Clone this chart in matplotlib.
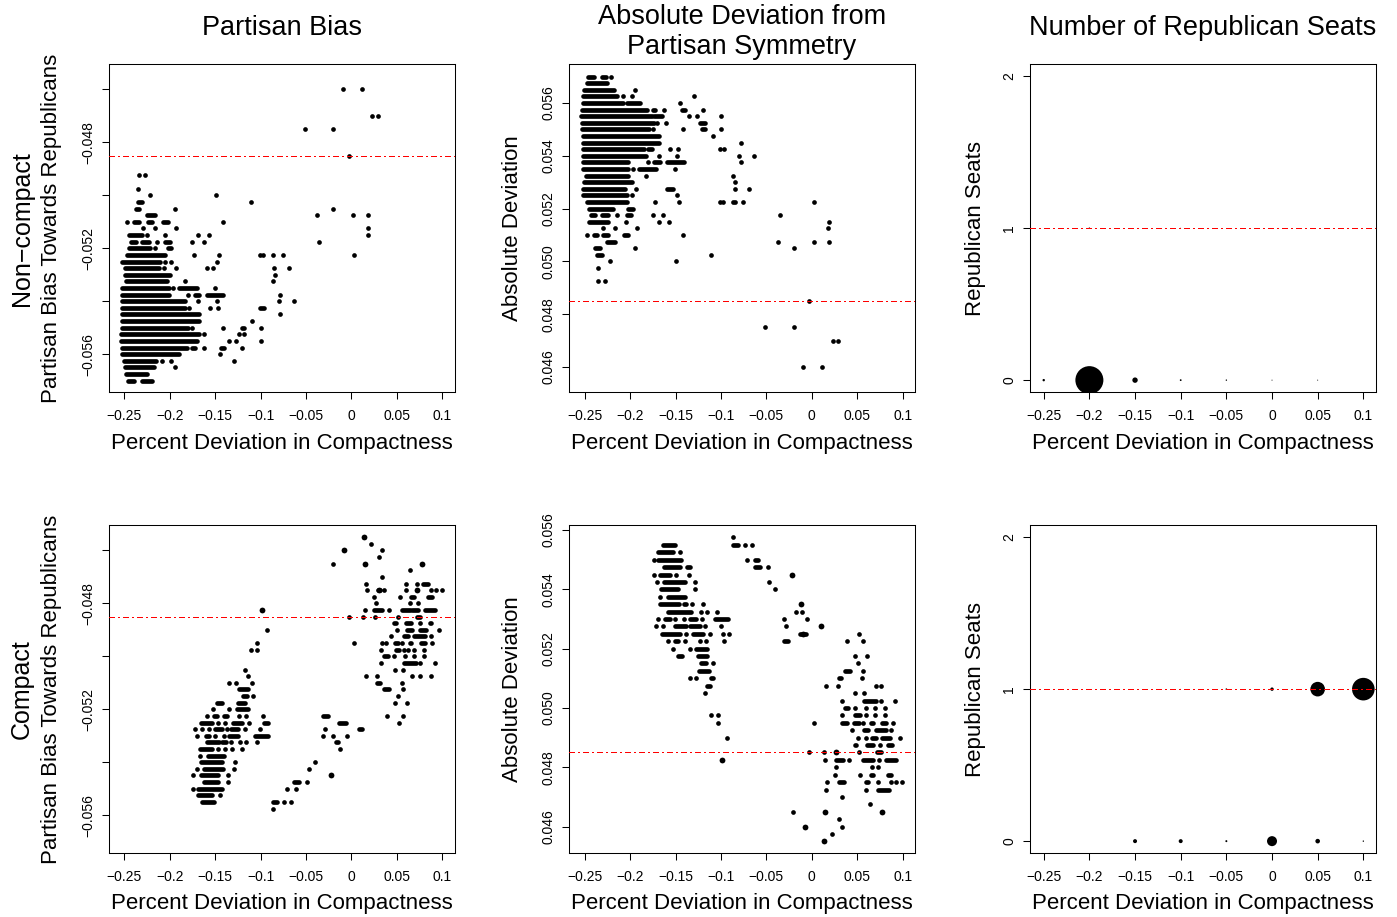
import matplotlib
matplotlib.use("Agg")
import matplotlib.pyplot as plt

plt.rcParams['font.family'] = ['Liberation Sans', 'DejaVu Sans']

# ---------------- data ----------------
# dense stretches of overlapping dots: (y, x_from, x_to); single dots grouped by row: (y, [x...])
xticks = [-0.25, -0.2, -0.15, -0.1, -0.05, 0, 0.05, 0.1]
xtick_labels = ['\u22120.25', '\u22120.2', '\u22120.15', '\u22120.1', '\u22120.05', '0', '0.05', '0.1']

# Non-compact, partisan bias
nc_bias_runs = [
    (-0.05025, -0.2352, -0.2312), (-0.0505, -0.2378, -0.2341), (-0.05075, -0.2253, -0.2165),
    (-0.0510, -0.2393, -0.2341), (-0.0510, -0.2239, -0.2202), (-0.0510, -0.2077, -0.2018),
    (-0.0515, -0.2452, -0.2312),
    (-0.05175, -0.2426, -0.2378), (-0.05175, -0.2312, -0.2231), (-0.05175, -0.2048, -0.1993),
    (-0.0520, -0.2452, -0.2224), (-0.0520, -0.2018, -0.1982),
    (-0.05225, -0.2477, -0.2048), (-0.0525, -0.2525, -0.2103), (-0.05275, -0.2499, -0.2121),
    (-0.0530, -0.2499, -0.1993), (-0.05325, -0.2488, -0.2029),
    (-0.0535, -0.2525, -0.2011), (-0.0535, -0.1901, -0.1699),
    (-0.05375, -0.2525, -0.2011), (-0.05375, -0.1725, -0.1674), (-0.05375, -0.1596, -0.1413),
    (-0.0540, -0.2525, -0.1835), (-0.05425, -0.2525, -0.1828), (-0.05425, -0.1011, -0.0959),
    (-0.0545, -0.2525, -0.1674), (-0.05475, -0.2525, -0.1674),
    (-0.0550, -0.2532, -0.1798), (-0.0550, -0.1204, -0.1178),
    (-0.05525, -0.2543, -0.1674), (-0.0555, -0.2543, -0.1699),
    (-0.05575, -0.2532, -0.1809), (-0.05575, -0.1751, -0.1721), (-0.05575, -0.1439, -0.1402),
    (-0.0560, -0.2525, -0.1901), (-0.05625, -0.2507, -0.2151), (-0.0565, -0.2499, -0.2176),
    (-0.05675, -0.2488, -0.2257), (-0.0570, -0.2459, -0.2396), (-0.0570, -0.2312, -0.2202),
]
nc_bias_rows = [
    (-0.0460, [-0.0097, 0.0119]), (-0.0470, [0.0226, 0.0288]), (-0.0475, [-0.0512, -0.0200]),
    (-0.0485, [-0.0031]), (-0.04925, [-0.2341, -0.2279]), (-0.04975, [-0.2349]),
    (-0.0500, [-0.2224, -0.1494]), (-0.05025, [-0.1108]), (-0.0505, [-0.1941, -0.0200]),
    (-0.05075, [-0.0376, 0.0020, 0.0185]), (-0.0510, [-0.2470, -0.1420]),
    (-0.05125, [-0.2294, -0.2158, -0.1927, 0.0178]),
    (-0.0515, [-0.2257, -0.2055, -0.1688, -0.1571, 0.0185]),
    (-0.05175, [-0.2140, -0.1751, -0.1629, -0.0358]), (-0.0520, [-0.2158]),
    (-0.05225, [-0.1729, -0.1464, -0.1009, -0.0974, -0.0864, -0.0754, 0.0024]),
    (-0.0525, [-0.2055, -0.1982, -0.1483]),
    (-0.05275, [-0.2066, -0.1930, -0.1596, -0.1527, -0.0849, -0.0688]),
    (-0.0530, [-0.0838]), (-0.05325, [-0.1828, -0.0864]), (-0.0535, [-0.1967, -0.1505]),
    (-0.05375, [-0.1798, -0.0787]), (-0.0540, [-0.1688, -0.1483, -0.0798, -0.0633]),
    (-0.05425, [-0.1784, -0.1556, -0.1468]), (-0.0545, [-0.0787]), (-0.05475, [-0.1090]),
    (-0.0550, [-0.1751, -0.1413, -0.1000]), (-0.05525, [-0.1622, -0.1233, -0.1178]),
    (-0.0555, [-0.1354, -0.1270, -0.1000]), (-0.05575, [-0.1622, -0.1200]),
    (-0.0560, [-0.1450]), (-0.05625, [-0.2085, -0.1989, -0.1295]), (-0.0565, [-0.1941]),
]

# Non-compact, absolute deviation
nc_dev_runs = [
    (0.0570, -0.2460, -0.2393), (0.0570, -0.2313, -0.2265), (0.05675, -0.2478, -0.2258),
    (0.0565, -0.2504, -0.2177), (0.05625, -0.2522, -0.2140),
    (0.0560, -0.2522, -0.2074), (0.0560, -0.2037, -0.1891),
    (0.05575, -0.2533, -0.1817), (0.05575, -0.1751, -0.1726), (0.05575, -0.1432, -0.1395),
    (0.0555, -0.2540, -0.1762), (0.0555, -0.1733, -0.1652),
    (0.05525, -0.2533, -0.1733), (0.05525, -0.1230, -0.1175),
    (0.0550, -0.2533, -0.1788), (0.0550, -0.1204, -0.1175),
    (0.05475, -0.2522, -0.1681), (0.0545, -0.2515, -0.1681),
    (0.05425, -0.2515, -0.1843), (0.05425, -0.1806, -0.1762), (0.0540, -0.2522, -0.1828),
    (0.05375, -0.2522, -0.2019), (0.05375, -0.1733, -0.1667), (0.05375, -0.1597, -0.1410),
    (0.0535, -0.2522, -0.2019), (0.0535, -0.1898, -0.1718), (0.05325, -0.2489, -0.2026),
    (0.0530, -0.2507, -0.1982), (0.05275, -0.2522, -0.2056), (0.05275, -0.1597, -0.1524),
    (0.0525, -0.2515, -0.2037), (0.05225, -0.2478, -0.2037),
    (0.0520, -0.2452, -0.2184), (0.0520, -0.2026, -0.1971),
    (0.05175, -0.2430, -0.2386), (0.05175, -0.2313, -0.2239), (0.05175, -0.2037, -0.1990),
    (0.0515, -0.2452, -0.2239),
    (0.0510, -0.2397, -0.2360), (0.0510, -0.2294, -0.2239), (0.0510, -0.2067, -0.2019),
    (0.05075, -0.2258, -0.2166), (0.0505, -0.2386, -0.2331), (0.05025, -0.2364, -0.2313),
]
nc_dev_rows = [
    (0.0570, [-0.2214]), (0.0565, [-0.1946]), (0.05625, [-0.2074, -0.1982, -0.1292]),
    (0.0560, [-0.1447]), (0.05575, [-0.1623, -0.1197]), (0.0555, [-0.1351, -0.1267, -0.0999]),
    (0.05525, [-0.1703, -0.1604]), (0.0550, [-0.1744, -0.1421, -0.0999]), (0.05475, [-0.1091]),
    (0.0545, [-0.0783]), (0.05425, [-0.1557, -0.1469, -0.1006, -0.0967]),
    (0.0540, [-0.1685, -0.1480, -0.0798, -0.0633]), (0.05375, [-0.1799, -0.0783]),
    (0.0535, [-0.1964, -0.1505]), (0.05325, [-0.1828, -0.0864]), (0.0530, [-0.0842]),
    (0.05275, [-0.1935, -0.0849, -0.0688]), (0.0525, [-0.1982, -0.1487]),
    (0.05225, [-0.1729, -0.1461, -0.1014, -0.0974, -0.0871, -0.0849, -0.0754, 0.0020]),
    (0.05175, [-0.2140, -0.1751, -0.1634, -0.0354]), (0.0515, [-0.2048, -0.1681, -0.1568, 0.0185]),
    (0.05125, [-0.2294, -0.2162, -0.1924, 0.0178]), (0.0510, [-0.2474, -0.1421]),
    (0.05075, [-0.0376, 0.0020, 0.0185]), (0.0505, [-0.1946, -0.0200]), (0.05025, [-0.1109]),
    (0.0500, [-0.2221, -0.1494]), (0.04975, [-0.2349]), (0.04925, [-0.2349, -0.2276]),
    (0.0485, [-0.0028]), (0.0475, [-0.0512, -0.0200]), (0.0470, [0.0229, 0.0288]),
    (0.0460, [-0.0094, 0.0116]),
]

# Compact, partisan bias
c_bias_runs = [
    (-0.05125, -0.1234, -0.1135), (-0.0515, -0.1190, -0.1153),
    (-0.05175, -0.1483, -0.1428), (-0.05175, -0.1245, -0.1171), (-0.0520, -0.1263, -0.1135),
    (-0.05225, -0.1509, -0.1476), (-0.05225, -0.1399, -0.1373), (-0.05225, -0.0310, -0.0255),
    (-0.0525, -0.1656, -0.1538), (-0.0525, -0.1300, -0.1208), (-0.0525, -0.0966, -0.0915),
    (-0.0525, -0.0138, -0.0064),
    (-0.05275, -0.1502, -0.1428), (-0.05275, -0.1329, -0.1245), (-0.05275, 0.0086, 0.0112),
    (-0.0530, -0.1601, -0.1564), (-0.0530, -0.1344, -0.1245), (-0.0530, -0.1061, -0.0922),
    (-0.05325, -0.1590, -0.1454), (-0.05325, -0.1421, -0.1384), (-0.05325, -0.0171, -0.0145),
    (-0.0535, -0.1667, -0.1538), (-0.05375, -0.1582, -0.1403), (-0.0540, -0.1656, -0.1428),
    (-0.05425, -0.1619, -0.1410), (-0.0545, -0.1656, -0.1472),
    (-0.05475, -0.1619, -0.1465), (-0.05475, -0.0633, -0.0574),
    (-0.0550, -0.1685, -0.1428), (-0.05525, -0.1685, -0.1538),
    (-0.0555, -0.1641, -0.1509), (-0.0555, -0.0863, -0.0823),
    # right cluster
    (-0.04725, 0.0787, 0.0842), (-0.0475, 0.0292, 0.0310), (-0.04775, 0.0659, 0.0688),
    (-0.04775, 0.0842, 0.0886), (-0.04825, 0.0248, 0.0339), (-0.04825, 0.0560, 0.0640),
    (-0.04825, 0.0670, 0.0732), (-0.04825, 0.0805, 0.0923), (-0.0485, 0.0717, 0.0750),
    (-0.04875, 0.0464, 0.0486), (-0.04875, 0.0604, 0.0659), (-0.04875, 0.0864, 0.0879),
    (-0.0490, 0.0607, 0.0670), (-0.0490, 0.0758, 0.0824),
    (-0.04925, 0.0582, 0.0622), (-0.04925, 0.0692, 0.0813),
    (-0.0495, 0.0475, 0.0512), (-0.0495, 0.0644, 0.0659), (-0.0495, 0.0769, 0.0805),
    (-0.04975, 0.0486, 0.0519), (-0.0500, 0.0358, 0.0402), (-0.05025, 0.0574, 0.0706),
    (-0.0510, 0.0284, 0.0314), (-0.05125, 0.0358, 0.0409),
]
c_bias_rows = [
    (-0.0455, [0.0134]), (-0.04575, [0.0218]), (-0.0460, [-0.0083, 0.0336]), (-0.04625, [0.0299]),
    (-0.0465, [-0.0208, 0.0145, 0.0776]), (-0.04675, [0.0640]), (-0.0470, [0.0339]),
    (-0.04725, [0.0156, 0.0600, 0.0725]),
    (-0.0475, [0.0170, 0.0354, 0.0596, 0.0725, 0.0879, 0.0927, 0.0993]),
    (-0.04775, [0.0251, 0.0530]), (-0.0480, [0.0266, 0.0648, 0.0728]),
    (-0.04825, [-0.0981, 0.0148, 0.0409]), (-0.0485, [-0.0031, 0.0130, 0.0259, 0.0512]),
    (-0.04875, [0.0758]), (-0.0490, [-0.0934, 0.0504, 0.0967]), (-0.04925, [0.0438, 0.0872]),
    (-0.0495, [-0.1036, 0.0027, 0.0339, 0.0383, 0.0560, 0.0886]),
    (-0.04975, [-0.1110, -0.1036, 0.0328, 0.0578, 0.0618, 0.0692, 0.0798]),
    (-0.0500, [0.0471, 0.0593, 0.0692, 0.0802]), (-0.05025, [0.0328, 0.0754, 0.0915]),
    (-0.0505, [-0.1171, 0.0475, 0.0571]),
    (-0.05075, [-0.1142, 0.0159, 0.0284, 0.0670, 0.0754, 0.0872]),
    (-0.0510, [-0.1348, -0.1274, -0.1091, 0.0552]), (-0.05125, [0.0567]),
    (-0.0515, [-0.1083, 0.0512]), (-0.05175, [0.0475, 0.0611]),
    (-0.0520, [-0.1524, -0.1344]),
    (-0.05225, [-0.1590, -0.1234, -0.1157, -0.0970, 0.0391, 0.0567]),
    (-0.0525, [-0.1472, -0.1392, -0.1127, 0.0519]),
    (-0.05275, [-0.1722, -0.1649, -0.1564, -0.1366, -0.1171, -0.1006, -0.0288]),
    (-0.0530, [-0.1696, -0.1502, -0.1403, -0.0314, -0.0200, -0.0050]),
    (-0.05325, [-0.1329, -0.1226, -0.1160, -0.1043]),
    (-0.0535, [-0.1465, -0.1392, -0.1318, -0.1204, -0.0127]),
    (-0.05375, [-0.1667]), (-0.0540, [-0.1282, -0.0402]), (-0.05425, [-0.1704, -0.1289, -0.0471]),
    (-0.0545, [-0.1740, -0.1355, -0.0226]), (-0.05475, [-0.1362, -0.0486]),
    (-0.0550, [-0.1740, -0.0713, -0.0610]), (-0.05525, [-0.1447]),
    (-0.0555, [-0.0738, -0.0665]), (-0.05575, [-0.0863]),
]
c_bias_big = [(-0.0981, -0.04825), (-0.0226, -0.0545), (0.0134, -0.0455), (-0.0083, -0.0460),
              (0.0145, -0.0465), (0.0776, -0.0465), (0.0725, -0.0475), (0.0300, -0.0475)]

# Compact, absolute deviation
c_dev_runs = [
    (0.0555, -0.1638, -0.1502), (0.0555, -0.0864, -0.0812), (0.05525, -0.1693, -0.1528),
    (0.0550, -0.1693, -0.1436), (0.0550, -0.0621, -0.0592),
    (0.05475, -0.1627, -0.1455), (0.05475, -0.1377, -0.1344), (0.05475, -0.0629, -0.0570),
    (0.0545, -0.1675, -0.1565), (0.05425, -0.1627, -0.1400), (0.0540, -0.1664, -0.1473),
    (0.05375, -0.1583, -0.1400), (0.0535, -0.1667, -0.1462), (0.0535, -0.1407, -0.1381),
    (0.05325, -0.1583, -0.1333),
    (0.0530, -0.1612, -0.1565), (0.0530, -0.1344, -0.1271), (0.0530, -0.1069, -0.0922),
    (0.05275, -0.1510, -0.1389), (0.05275, -0.1344, -0.1234),
    (0.0525, -0.1649, -0.1447), (0.0525, -0.1304, -0.1198), (0.0525, -0.0134, -0.0068),
    (0.05225, -0.1510, -0.1473), (0.05225, -0.0306, -0.0262),
    (0.0520, -0.1271, -0.1150), (0.05175, -0.1477, -0.1429), (0.05175, -0.1253, -0.1150),
    (0.0515, -0.1216, -0.1161), (0.05125, -0.1238, -0.1135), (0.0510, -0.1106, -0.1084),
    (0.05075, -0.1154, -0.1121),
    # right cluster
    (0.05125, 0.0362, 0.0417), (0.0510, 0.0299, 0.0325), (0.05025, 0.0571, 0.0710),
    (0.0500, 0.0362, 0.0402), (0.04975, 0.0475, 0.0530),
    (0.0495, 0.0336, 0.0387), (0.0495, 0.0468, 0.0519), (0.0495, 0.0651, 0.0673),
    (0.0495, 0.0769, 0.0820), (0.04925, 0.0571, 0.0618), (0.04925, 0.0703, 0.0820),
    (0.0490, 0.0659, 0.0703), (0.0490, 0.0769, 0.0864),
    (0.04875, 0.0472, 0.0490), (0.04875, 0.0607, 0.0673), (0.04875, 0.0842, 0.0886),
    (0.0485, 0.0718, 0.0765), (0.04825, 0.0270, 0.0343), (0.04825, 0.0563, 0.0673),
    (0.04825, 0.0813, 0.0930), (0.04775, 0.0648, 0.0673), (0.04775, 0.0842, 0.0872),
    (0.0475, 0.0299, 0.0354), (0.0475, 0.0593, 0.0618), (0.04725, 0.0729, 0.0850),
]
c_dev_rows = [
    (0.05575, [-0.0864]), (0.0555, [-0.0739, -0.0658]), (0.05525, [-0.1447]),
    (0.0550, [-0.1741, -0.0710]), (0.05475, [-0.0482]),
    (0.0545, [-0.1741, -0.1491, -0.1355, -0.0218]), (0.05425, [-0.1704, -0.1289, -0.0471]),
    (0.0540, [-0.1282, -0.0401]), (0.05375, [-0.1667]),
    (0.0535, [-0.1322, -0.1201, -0.0123]), (0.05325, [-0.1216, -0.1157, -0.1044, -0.0171, -0.0105]),
    (0.0530, [-0.1693, -0.1502, -0.1407, -0.1209, -0.0306, -0.0053]),
    (0.05275, [-0.1715, -0.1638, -0.1176, -0.1003, -0.0288, 0.0105]),
    (0.0525, [-0.1389, -0.1124, -0.0974, -0.0911, 0.0523]),
    (0.05225, [-0.1587, -0.1392, -0.1234, -0.1161, -0.0966, 0.0391, 0.0567]),
    (0.0520, [-0.1524, -0.1344]), (0.05175, [0.0475, 0.0611]), (0.0515, [-0.1084, 0.0512]),
    (0.05125, [0.0567]), (0.0510, [-0.1344, -0.1271, 0.0552]),
    (0.05075, [0.0160, 0.0288, 0.0710, 0.0758]), (0.0505, [-0.1172, 0.0475, 0.0571]),
    (0.05025, [0.0336, 0.0758, 0.0919]), (0.0500, [0.0475, 0.0593, 0.0692, 0.0809]),
    (0.04975, [-0.1110, -0.1033, 0.0332, 0.0600, 0.0696, 0.0806]),
    (0.0495, [-0.1033, 0.0024, 0.0563, 0.0890]), (0.04925, [0.0439, 0.0872]),
    (0.0490, [-0.0933, 0.0505, 0.0593, 0.0971]), (0.04875, [0.0747]),
    (0.0485, [-0.0031, 0.0130, 0.0262, 0.0519]), (0.04825, [-0.0985, 0.0149, 0.0413, 0.0740]),
    (0.0480, [0.0270, 0.0659, 0.0725]), (0.04775, [0.0251, 0.0530]),
    (0.0475, [0.0171, 0.0729, 0.0868, 0.0923, 0.0996]), (0.04725, [0.0160, 0.0600]),
    (0.0470, [0.0332]), (0.04675, [0.0640]), (0.0465, [-0.0207, 0.0141, 0.0776]),
    (0.04625, [0.0299]), (0.0460, [-0.0079, 0.0336]), (0.04575, [0.0218]), (0.0455, [0.0130]),
]
c_dev_big = [(-0.0218, 0.0545), (-0.0123, 0.0535), (0.0105, 0.05275), (-0.0985, 0.04825),
             (0.0262, 0.0485), (0.0141, 0.0465), (0.0776, 0.0465), (-0.0079, 0.0460),
             (0.0130, 0.0455), (-0.0100, 0.0525)]

# Republican seats: bubble positions and radius (px)
nc_seat_x = [-0.25, -0.2, -0.15, -0.1, -0.05, 0, 0.05, -0.2, -0.1]
nc_seat_y = [0, 0, 0, 0, 0, 0, 0, 1, 1]
nc_seat_r = [1.2, 14, 2.7, 0.9, 0.7, 0.5, 0.5, 0.7, 0.4]
c_seat_x = [-0.15, -0.1, -0.05, 0, 0.05, 0.1, -0.1, -0.05, 0, 0.05, 0.1]
c_seat_y = [0, 0, 0, 0, 0, 0, 1, 1, 1, 1, 1]
c_seat_r = [2.0, 2.0, 1.0, 5.0, 2.3, 0.7, 0.3, 0.8, 1.7, 7.3, 11.3]

# reference lines
bias_ref = -0.0485
dev_ref = 0.0485
seat_ref = 1

# ---------------- drawing ----------------
W, H = 1397, 917
fig = plt.figure(figsize=(W / 100, H / 100), dpi=100)

def fx(x):
    return x / W

def fy(y):
    return 1 - y / H

DOT_D = 4.7  # px
BIG_D = 5.8
PT = 0.72    # points per px


def axes_at(x0, x1, y0, y1):
    return fig.add_axes([fx(x0), fy(y1), fx(x1 - x0), (y1 - y0) / H])


def dots(ax, runs, rows, big=()):
    ax.hlines([r[0] for r in runs], [r[1] for r in runs], [r[2] for r in runs],
              colors='black', linewidth=DOT_D * PT, capstyle='round', zorder=3)
    xs, ys = [], []
    for y, xl in rows:
        xs += xl
        ys += [y] * len(xl)
    ax.scatter(xs, ys, s=(DOT_D * PT) ** 2, c='black', linewidths=0, zorder=3)
    if big:
        ax.scatter([b[0] for b in big], [b[1] for b in big], s=(BIG_D * PT) ** 2,
                   c='black', linewidths=0, zorder=3)


def style(ax, xlim, ylim, yticks, ylabels):
    ax.set_xlim(*xlim)
    ax.set_ylim(*ylim)
    ax.set_xticks(xticks)
    ax.set_xticklabels(xtick_labels)
    ax.set_yticks(yticks)
    ax.set_yticklabels(ylabels, rotation=90, va='center')
    ax.tick_params(direction='out', length=5, width=0.75, labelsize=10, pad=5)
    ax.tick_params(axis='x', pad=7)
    for s in ax.spines.values():
        s.set_linewidth(0.75)


def refline(ax, y):
    ax.axhline(y, color='#ff0000', linewidth=0.75, dashes=(5, 3, 1.3, 3), zorder=4,
               snap=True, antialiased=False)


xl = (-0.267, 0.114)
bias_ticks = [-0.056, -0.054, -0.052, -0.050, -0.048, -0.046]
bias_labels = ['\u22120.056', '', '\u22120.052', '', '\u22120.048', '']
bias_lim = (-0.05744, -0.04504)
seat_ticks = [0, 1, 2]

cols = [(109, 455), (569.3, 915.3), (1030.3, 1376.3)]
rows_y = [(64, 392.3), (525, 853.3)]

# top-left
ax = axes_at(*cols[0], *rows_y[0])
dots(ax, nc_bias_runs, nc_bias_rows)
refline(ax, bias_ref)
style(ax, xl, bias_lim, bias_ticks, bias_labels)

# top-middle
ax = axes_at(*cols[1], *rows_y[0])
dots(ax, nc_dev_runs, nc_dev_rows)
refline(ax, dev_ref)
dev_ticks = [0.046, 0.048, 0.050, 0.052, 0.054, 0.056]
style(ax, xl, (0.04504, 0.05748), dev_ticks, ['%.3f' % t for t in dev_ticks])

# top-right
ax = axes_at(*cols[2], *rows_y[0])
refline(ax, seat_ref)
ax.scatter(nc_seat_x, nc_seat_y, s=[(2 * r * PT) ** 2 for r in nc_seat_r], c='black',
           linewidths=0, zorder=3)
style(ax, (-0.2647, 0.1142), (-0.08, 2.08), seat_ticks, ['0', '1', '2'])

# bottom-left
ax = axes_at(*cols[0], *rows_y[1])
dots(ax, c_bias_runs, c_bias_rows, c_bias_big)
refline(ax, bias_ref)
style(ax, xl, bias_lim, bias_ticks, bias_labels)

# bottom-middle
ax = axes_at(*cols[1], *rows_y[1])
dots(ax, c_dev_runs, c_dev_rows, c_dev_big)
refline(ax, dev_ref)
style(ax, xl, (0.0451, 0.05617), dev_ticks, ['%.3f' % t for t in dev_ticks])

# bottom-right
ax = axes_at(*cols[2], *rows_y[1])
refline(ax, seat_ref)
ax.scatter(c_seat_x, c_seat_y, s=[(2 * r * PT) ** 2 for r in c_seat_r], c='black',
           linewidths=0, zorder=3)
style(ax, (-0.2647, 0.1142), (-0.08, 2.08), seat_ticks, ['0', '1', '2'])

# ---------------- text ----------------
TITLE = 19.5
LAB = 16
fig.text(fx(282), fy(28), 'Partisan Bias', ha='center', va='center', fontsize=TITLE)
fig.text(fx(742), fy(32), 'Absolute Deviation from\nPartisan Symmetry', ha='center',
         va='center', fontsize=TITLE, linespacing=1.17)
fig.text(fx(1203), fy(28), 'Number of Republican Seats', ha='center', va='center', fontsize=TITLE)

for cx in (282, 742, 1203):
    for yy in (444, 904):
        fig.text(fx(cx), fy(yy), 'Percent Deviation in Compactness', ha='center', va='center',
                 fontsize=LAB)

for (y0, y1), row_name in zip(rows_y, ['Non\u2212compact', 'Compact']):
    cy = (y0 + y1) / 2
    fig.text(fx(22), fy(cy), row_name, rotation=90, ha='center', va='center', fontsize=18)
    fig.text(fx(52), fy(cy), 'Partisan Bias Towards Republicans', rotation=90, ha='center',
             va='center', fontsize=LAB)
    fig.text(fx(513), fy(cy), 'Absolute Deviation', rotation=90, ha='center', va='center',
             fontsize=LAB)
    fig.text(fx(975), fy(cy), 'Republican Seats', rotation=90, ha='center', va='center',
             fontsize=LAB)

fig.savefig('out.png', dpi=100)
